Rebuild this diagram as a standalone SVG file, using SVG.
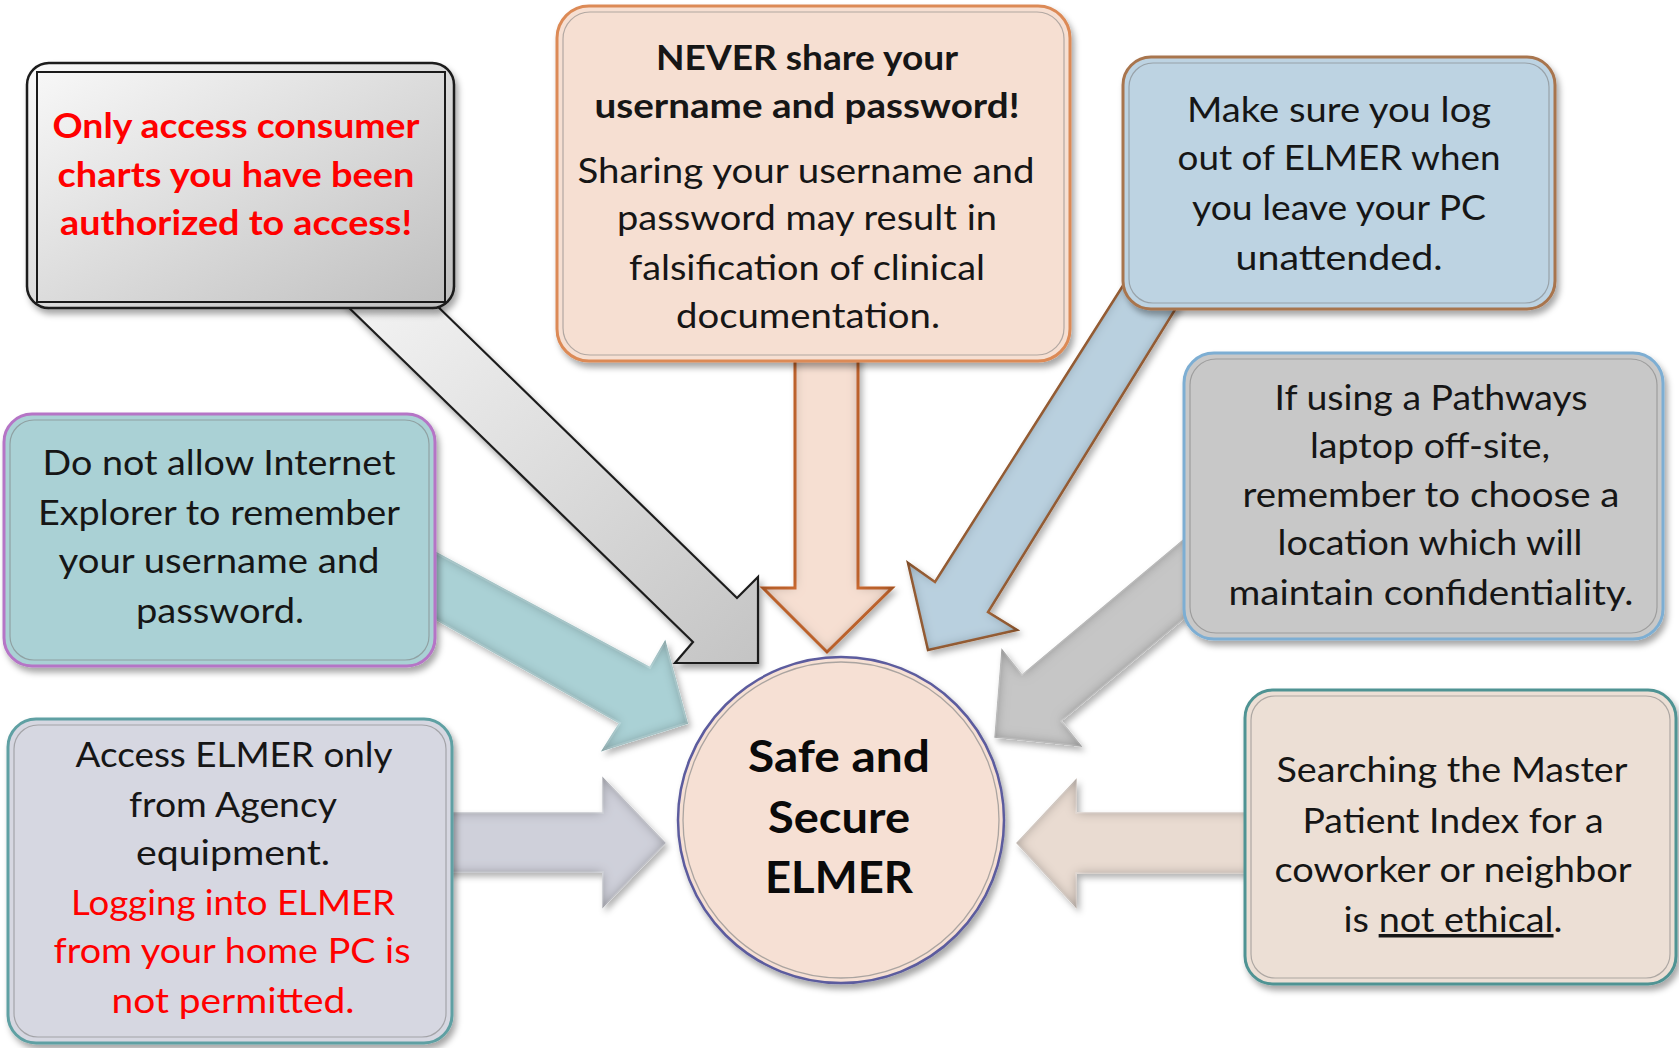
<svg xmlns="http://www.w3.org/2000/svg" width="1679" height="1048" viewBox="0 0 1679 1048">
<defs>
<style>
.t{font-family:Lato,'Liberation Sans',sans-serif;font-size:35px;text-anchor:middle;fill:#161616}
.b{font-weight:bold}
.red{fill:#ff0000}
.c{font-size:44px;font-weight:bold;fill:#0a0a0a}
.box{stroke-width:3}
.inner{fill:none;stroke:#7a7a7a;stroke-opacity:0.55;stroke-width:1.2}
</style>
<linearGradient id="g1" x1="0" y1="0" x2="1" y2="1">
<stop offset="0" stop-color="#f9f9f9"/><stop offset="1" stop-color="#bfbfbf"/>
</linearGradient>
<linearGradient id="ga" x1="0" y1="0" x2="1" y2="1">
<stop offset="0" stop-color="#f4f4f4"/><stop offset="1" stop-color="#c4c4c4"/>
</linearGradient>
<filter id="sh" x="-10%" y="-10%" width="125%" height="125%">
<feDropShadow dx="3" dy="5" stdDeviation="3" flood-color="#000" flood-opacity="0.35"/>
</filter>
<filter id="inset" x="-15%" y="-15%" width="135%" height="135%">
<feGaussianBlur in="SourceAlpha" stdDeviation="6" result="blur"/>
<feComposite in="SourceAlpha" in2="blur" operator="out" result="edge"/>
<feFlood flood-color="#000" flood-opacity="0.6"/>
<feComposite in2="edge" operator="in" result="shade"/>
<feComposite in="shade" in2="SourceAlpha" operator="in" result="shade2"/>
<feOffset in="SourceAlpha" dx="3" dy="4" result="off"/>
<feGaussianBlur in="off" stdDeviation="3" result="offb"/>
<feFlood flood-color="#000" flood-opacity="0.3"/>
<feComposite in2="offb" operator="in" result="drop"/>
<feMerge><feMergeNode in="drop"/><feMergeNode in="SourceGraphic"/><feMergeNode in="shade2"/></feMerge>
</filter>
</defs>
<rect width="1679" height="1048" fill="#ffffff"/>

<g id="connectors">
<polygon id="a-gray1" points="341,300 693,642 675,663 758,663 758,577 737,598 429,298" fill="url(#ga)" stroke="#1e1e1e" stroke-width="2.2" stroke-linejoin="miter" filter="url(#sh)"/>
<polygon id="a-teal" points="425,547 650,668 665,642 687,723 603,750 620,723 425,613" fill="#aad1d5" stroke="#bfe0e3" stroke-width="2" filter="url(#inset)"/>
<polygon id="a-peach" points="795,355 858,355 858,588 892,588 827,652 763,588 795,588" fill="#f6dfd2" stroke="#d36f36" stroke-width="3" filter="url(#inset)"/>
<polygon id="a-blue" points="1131,273 935,582 908,563 928,650 1017,630 988,612 1181,300" fill="#b9d0df" stroke="#a7693d" stroke-width="2.5" filter="url(#inset)"/>
<polygon id="a-gray2" points="1200,526 1022,675 1002,650 995,737 1081,746 1061,721 1200,605" fill="#c6c6c6" stroke="#d6d6d6" stroke-width="1.5" filter="url(#inset)"/>
<polygon id="a-lav" points="440,813 603,813 603,778 665,843 603,907 603,872 440,872" fill="#cfd0da" stroke="#dcdde4" stroke-width="1.5" filter="url(#inset)"/>
<polygon id="a-beige" points="1260,813 1076,813 1076,780 1017,843 1076,907 1076,873 1260,873" fill="#e9dbd1" stroke="#efe5de" stroke-width="1.5" filter="url(#inset)"/>
</g>

<g id="node-charts">
<rect x="27" y="63" width="427" height="245" rx="22" fill="url(#g1)" stroke="#1a1a1a" stroke-width="2.5" filter="url(#sh)"/>
<rect x="37" y="72" width="408" height="230" fill="none" stroke="#1a1a1a" stroke-width="2"/>
<text class="t b red" x="236" y="138" textLength="367" lengthAdjust="spacingAndGlyphs">Only access consumer</text>
<text class="t b red" x="236" y="187" textLength="357" lengthAdjust="spacingAndGlyphs">charts you have been</text>
<text class="t b red" x="236" y="235" textLength="352" lengthAdjust="spacingAndGlyphs">authorized to access!</text>
</g>

<g id="node-never">
<rect class="box" x="557" y="6" width="513" height="355" rx="32" fill="#f6dfd2" stroke="#dc8a57" filter="url(#sh)"/>
<rect class="inner" x="563" y="12" width="501" height="343" rx="27"/>
<text class="t b" x="807" y="70" textLength="302" lengthAdjust="spacingAndGlyphs">NEVER share your</text>
<text class="t b" x="807" y="118" textLength="425" lengthAdjust="spacingAndGlyphs">username and password!</text>
<text class="t" x="806" y="183" textLength="457" lengthAdjust="spacingAndGlyphs">Sharing your username and</text>
<text class="t" x="807" y="230" textLength="380" lengthAdjust="spacingAndGlyphs">password may result in</text>
<text class="t" x="807" y="280" textLength="356" lengthAdjust="spacingAndGlyphs">falsification of clinical</text>
<text class="t" x="808" y="328" textLength="264" lengthAdjust="spacingAndGlyphs">documentation.</text>
</g>

<g id="node-logout">
<rect class="box" x="1123" y="57" width="432" height="252" rx="28" fill="#bdd3e2" stroke="#a8744e" stroke-width="2.5" filter="url(#sh)"/>
<rect class="inner" x="1129" y="63" width="420" height="240" rx="24"/>
<text class="t" x="1339" y="122" textLength="304" lengthAdjust="spacingAndGlyphs">Make sure you log</text>
<text class="t" x="1339" y="170" textLength="323" lengthAdjust="spacingAndGlyphs">out of ELMER when</text>
<text class="t" x="1339" y="220" textLength="294" lengthAdjust="spacingAndGlyphs">you leave your PC</text>
<text class="t" x="1339" y="270" textLength="207" lengthAdjust="spacingAndGlyphs">unattended.</text>
</g>

<g id="node-explorer">
<rect class="box" x="4" y="414" width="431" height="252" rx="28" fill="#aad1d5" stroke="#b574c6" stroke-width="2.5" filter="url(#sh)"/>
<rect class="inner" x="10" y="420" width="419" height="240" rx="24"/>
<text class="t" x="219" y="475" textLength="353" lengthAdjust="spacingAndGlyphs">Do not allow Internet</text>
<text class="t" x="219" y="525" textLength="362" lengthAdjust="spacingAndGlyphs">Explorer to remember</text>
<text class="t" x="219" y="573" textLength="321" lengthAdjust="spacingAndGlyphs">your username and</text>
<text class="t" x="220" y="623" textLength="168" lengthAdjust="spacingAndGlyphs">password.</text>
</g>

<g id="node-laptop">
<rect class="box" x="1184" y="353" width="479" height="286" rx="30" fill="#c8c8c8" stroke="#7daed3" stroke-width="2.5" filter="url(#sh)"/>
<rect class="inner" x="1190" y="359" width="467" height="274" rx="26"/>
<text class="t" x="1431" y="410" textLength="313" lengthAdjust="spacingAndGlyphs">If using a Pathways</text>
<text class="t" x="1430" y="458" textLength="240" lengthAdjust="spacingAndGlyphs">laptop off-site,</text>
<text class="t" x="1431" y="507" textLength="377" lengthAdjust="spacingAndGlyphs">remember to choose a</text>
<text class="t" x="1430" y="555" textLength="305" lengthAdjust="spacingAndGlyphs">location which will</text>
<text class="t" x="1431" y="605" textLength="405" lengthAdjust="spacingAndGlyphs">maintain confidentiality.</text>
</g>

<g id="node-agency">
<rect class="box" x="8" y="719" width="444" height="324" rx="28" fill="#d6d7e1" stroke="#5fa0a3" stroke-width="2.5" filter="url(#sh)"/>
<rect class="inner" x="14" y="725" width="432" height="312" rx="24"/>
<text class="t" x="234" y="767" textLength="317" lengthAdjust="spacingAndGlyphs">Access ELMER only</text>
<text class="t" x="233" y="817" textLength="208" lengthAdjust="spacingAndGlyphs">from Agency</text>
<text class="t" x="233" y="865" textLength="194" lengthAdjust="spacingAndGlyphs">equipment.</text>
<text class="t red" x="233" y="915" textLength="324" lengthAdjust="spacingAndGlyphs">Logging into ELMER</text>
<text class="t red" x="232" y="963" textLength="357" lengthAdjust="spacingAndGlyphs">from your home PC is</text>
<text class="t red" x="233" y="1013" textLength="243" lengthAdjust="spacingAndGlyphs">not permitted.</text>
</g>

<g id="node-search">
<rect class="box" x="1245" y="690" width="431" height="294" rx="28" fill="#ecdfd5" stroke="#4f9393" stroke-width="2.5" filter="url(#sh)"/>
<rect class="inner" x="1251" y="696" width="419" height="282" rx="24"/>
<text class="t" x="1452" y="782" textLength="351" lengthAdjust="spacingAndGlyphs">Searching the Master</text>
<text class="t" x="1453" y="833" textLength="301" lengthAdjust="spacingAndGlyphs">Patient Index for a</text>
<text class="t" x="1453" y="882" textLength="357" lengthAdjust="spacingAndGlyphs">coworker or neighbor</text>
<text class="t" x="1453" y="932" textLength="219" lengthAdjust="spacingAndGlyphs">is <tspan text-decoration="underline">not ethical</tspan>.</text>
</g>

<g id="node-center">
<circle cx="841" cy="820" r="163" fill="#f6e0d4" stroke="#5c5c9e" stroke-width="2.5" filter="url(#sh)"/>
<circle cx="841" cy="820" r="158" fill="none" stroke="#8a8a8a" stroke-opacity="0.7" stroke-width="1.3"/>
<text class="t c" x="839" y="772" textLength="182" lengthAdjust="spacingAndGlyphs">Safe and</text>
<text class="t c" x="839" y="833" textLength="142" lengthAdjust="spacingAndGlyphs">Secure</text>
<text class="t c" x="839" y="893" textLength="148" lengthAdjust="spacingAndGlyphs">ELMER</text>
</g>
</svg>
